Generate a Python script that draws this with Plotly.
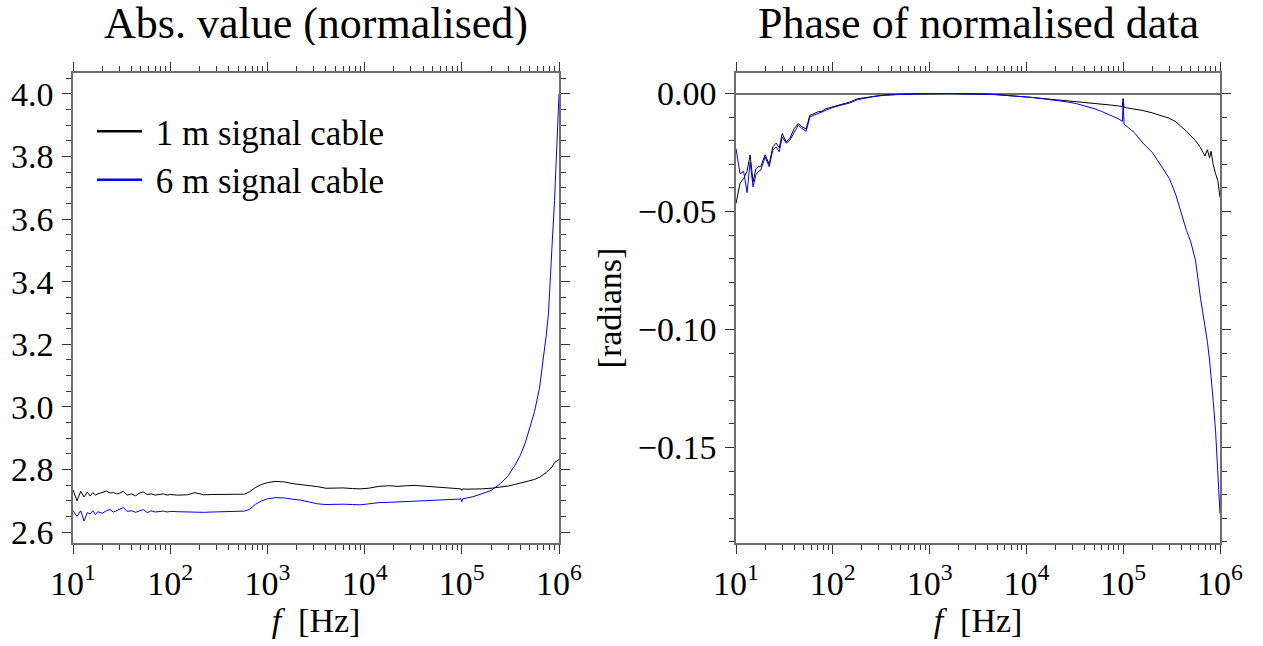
import plotly.graph_objects as go

# ---------------- data ----------------
freq_hz = [10, 11, 12, 13, 14, 15, 16, 17, 18, 20, 22, 24, 26, 28, 30, 33, 36, 40, 44, 48,
           53, 58, 64, 70, 77, 85, 93, 100, 120, 150, 180, 220, 270, 330, 400, 480, 580, 650,
           750, 870, 1000, 1200, 1500, 1800, 2200, 2700, 3300, 4000, 5000, 6000, 7500, 9000,
           11000, 14000, 18000, 22000, 27000, 33000, 40000, 50000, 60000, 75000, 90000, 98000,
           100000, 102000, 110000, 130000, 160000, 200000, 250000, 300000, 350000, 400000,
           450000, 500000, 560000, 630000, 700000, 740000, 780000, 810000, 850000, 900000,
           950000, 1000000]

abs_1m = [2.735, 2.700, 2.730, 2.712, 2.728, 2.715, 2.726, 2.718, 2.722, 2.728, 2.731, 2.725,
          2.726, 2.722, 2.724, 2.730, 2.718, 2.722, 2.716, 2.724, 2.728, 2.720, 2.722, 2.718,
          2.720, 2.722, 2.718, 2.720, 2.718, 2.719, 2.726, 2.719, 2.720, 2.720, 2.720, 2.720,
          2.721, 2.728, 2.742, 2.752, 2.758, 2.762, 2.760, 2.755, 2.752, 2.750, 2.745, 2.740,
          2.741, 2.741, 2.739, 2.738, 2.740, 2.746, 2.748, 2.746, 2.748, 2.749, 2.747, 2.745,
          2.743, 2.741, 2.739, 2.738, 2.733, 2.738, 2.737, 2.737, 2.738, 2.740, 2.743, 2.747,
          2.752, 2.757, 2.760, 2.765, 2.768, 2.775, 2.785, 2.790, 2.798, 2.802, 2.808, 2.822,
          2.828, 2.832]

abs_6m = [2.668, 2.650, 2.668, 2.635, 2.662, 2.658, 2.668, 2.656, 2.665, 2.660, 2.668, 2.672,
          2.664, 2.668, 2.672, 2.678, 2.666, 2.668, 2.663, 2.667, 2.672, 2.662, 2.668, 2.664,
          2.665, 2.667, 2.664, 2.666, 2.665, 2.664, 2.663, 2.663, 2.664, 2.665, 2.666, 2.666,
          2.667, 2.672, 2.688, 2.700, 2.706, 2.710, 2.709, 2.705, 2.702, 2.696, 2.690, 2.688,
          2.689, 2.689, 2.688, 2.687, 2.690, 2.694, 2.695, 2.696, 2.698, 2.700, 2.701, 2.702,
          2.703, 2.704, 2.705, 2.706, 2.697, 2.706, 2.708, 2.713, 2.722, 2.733, 2.755, 2.780,
          2.812, 2.845, 2.885, 2.930, 2.985, 3.060, 3.160, 3.230, 3.300, 3.380, 3.520, 3.660,
          3.840, 4.000]

phase_1m = [-0.0466, -0.0380, -0.0360, -0.0330, -0.0260, -0.0375, -0.0320, -0.0310, -0.0310,
            -0.0260, -0.0300, -0.0226, -0.0210, -0.0230, -0.0170, -0.0205, -0.0190, -0.0148,
            -0.0127, -0.0141, -0.0150, -0.0092, -0.0085, -0.0078, -0.0075, -0.0064, -0.0060,
            -0.0056, -0.0047, -0.0036, -0.0022, -0.0016, -0.0011, -0.0007, -0.0005, -0.0003,
            -0.0002, -0.0002, -0.0001, -0.0001, 0.0, 0.0, 0.0, 0.0, 0.0, -0.0001, -0.0002,
            -0.0003, -0.0005, -0.0007, -0.0010, -0.0013, -0.0016, -0.0020, -0.0024, -0.0028,
            -0.0031, -0.0035, -0.0039, -0.0042, -0.0045, -0.0049, -0.0053, -0.0056, -0.0021,
            -0.0058, -0.0061, -0.0066, -0.0072, -0.0082, -0.0094, -0.0105, -0.0120, -0.0140,
            -0.0160, -0.0180, -0.0200, -0.0230, -0.0265, -0.0238, -0.0272, -0.0245, -0.0300,
            -0.0340, -0.0370, -0.0440]

phase_6m = [-0.0233, -0.0340, -0.0330, -0.0420, -0.0290, -0.0396, -0.0346, -0.0330, -0.0325,
            -0.0269, -0.0310, -0.0240, -0.0226, -0.0247, -0.0184, -0.0210, -0.0198, -0.0163,
            -0.0134, -0.0148, -0.0160, -0.0099, -0.0092, -0.0085, -0.0080, -0.0071, -0.0065,
            -0.0059, -0.0050, -0.0040, -0.0026, -0.0018, -0.0012, -0.0008, -0.0005, -0.0003,
            -0.0002, -0.0002, -0.0001, -0.0001, 0.0, 0.0, 0.0, 0.0, 0.0, -0.0001, -0.0002,
            -0.0003, -0.0005, -0.0007, -0.0010, -0.0013, -0.0016, -0.0021, -0.0026, -0.0030,
            -0.0036, -0.0043, -0.0052, -0.0064, -0.0076, -0.0092, -0.0108, -0.0118, -0.0025,
            -0.0130, -0.0140, -0.0165, -0.0210, -0.0250, -0.0310, -0.0360, -0.0430, -0.0510,
            -0.0580, -0.0630, -0.0710, -0.0870, -0.0980, -0.1050, -0.1130, -0.1200, -0.1300,
            -0.1430, -0.1590, -0.1780]

series_names = ["1 m signal cable", "6 m signal cable"]
series_colors = ["#000000", "#0000ff"]
panel_titles = ["Abs. value (normalised)", "Phase of normalised data"]
x_tickvals = [10, 100, 1000, 10000, 100000, 1000000]
x_ticktext = ["10<sup>1</sup>", "10<sup>2</sup>", "10<sup>3</sup>",
              "10<sup>4</sup>", "10<sup>5</sup>", "10<sup>6</sup>"]

# ---------------- figure ----------------
FONT = "Liberation Serif"
W, H = 1263, 646
fig = go.Figure()

for vals, name, col in zip([abs_1m, abs_6m], series_names, series_colors):
    fig.add_trace(go.Scatter(x=freq_hz, y=vals, mode="lines", name=name,
                             line=dict(color=col, width=1), showlegend=False,
                             xaxis="x", yaxis="y"))
for vals, name, col in zip([phase_1m, phase_6m], series_names, series_colors):
    fig.add_trace(go.Scatter(x=freq_hz, y=vals, mode="lines", name=name,
                             line=dict(color=col, width=1), showlegend=False,
                             xaxis="x2", yaxis="y2"))
# legend entries (thicker sample lines); the leading space widens the
# gap between the sample line and the label as in the reference
for name, col in zip(series_names, series_colors):
    fig.add_trace(go.Scatter(x=[None], y=[None], mode="lines", name="&nbsp;" + name,
                             line=dict(color=col, width=2.4), showlegend=True,
                             xaxis="x", yaxis="y"))

ypx = lambda p: 1 - p / H
xpx = lambda p: p / W

common_axis = dict(showline=True, linecolor="#6e6e6e", linewidth=1.5, mirror="allticks",
                   ticks="outside", tickcolor="#333333", tickwidth=1, ticklen=9,
                   showgrid=False, zeroline=False, automargin=False,
                   tickfont=dict(family=FONT, size=34, color="black"))

xaxis_common = dict(common_axis, type="log", range=[1, 6], tickvals=x_tickvals,
                    ticktext=x_ticktext,
                    minor=dict(ticks="outside", ticklen=5, tickcolor="#333333",
                               dtick="D1", showgrid=False),
                    title=dict(text="<i>f</i>&nbsp; [Hz]",
                               font=dict(family=FONT, size=34, color="black"),
                               standoff=4))

title_font = dict(family=FONT, size=44, color="black")

fig.update_layout(
    width=W, height=H, margin=dict(l=0, r=0, t=0, b=0, autoexpand=False),
    paper_bgcolor="white", plot_bgcolor="white",
    font=dict(family=FONT, color="black"),
    xaxis=dict(xaxis_common, domain=[xpx(73), xpx(559)], anchor="y"),
    yaxis=dict(common_axis, domain=[ypx(543), ypx(73)], anchor="x",
               range=[2.565, 4.067], tick0=2.6, dtick=0.2, tickformat=".1f",
               ticklabelstandoff=2,
               minor=dict(ticks="outside", ticklen=5, tickcolor="#333333",
                          dtick=0.05, showgrid=False)),
    xaxis2=dict(xaxis_common, domain=[xpx(736), xpx(1220)], anchor="y2"),
    yaxis2=dict(common_axis, domain=[ypx(543), ypx(73)], anchor="x2",
                range=[-0.1905, 0.0087], tick0=0, dtick=0.05, tickformat=".2f",
                ticklabelstandoff=2, zeroline=True, zerolinecolor="#6e6e6e",
                zerolinewidth=1.5,
                minor=dict(ticks="outside", ticklen=5, tickcolor="#333333",
                           dtick=0.01, showgrid=False),
                title=dict(text="[radians]", font=dict(family=FONT, size=34, color="black"),
                           standoff=6)),
    legend=dict(x=xpx(92), y=ypx(102), xanchor="left", yanchor="top",
                bgcolor="rgba(0,0,0,0)", borderwidth=0,
                font=dict(family=FONT, size=35, color="black"),
                itemwidth=45, tracegroupgap=0),
    annotations=[
        dict(text=panel_titles[0], x=xpx(316), y=ypx(23), xref="paper", yref="paper",
             xanchor="center", yanchor="middle", valign="middle", height=44,
             showarrow=False, font=title_font),
        dict(text=panel_titles[1], x=xpx(978), y=ypx(23), xref="paper", yref="paper",
             xanchor="center", yanchor="middle", valign="middle", height=44,
             showarrow=False, font=title_font),
    ],
)

fig.write_html("out.html", config={"displayModeBar": False},
               post_script="document.body.style.margin='0';")
